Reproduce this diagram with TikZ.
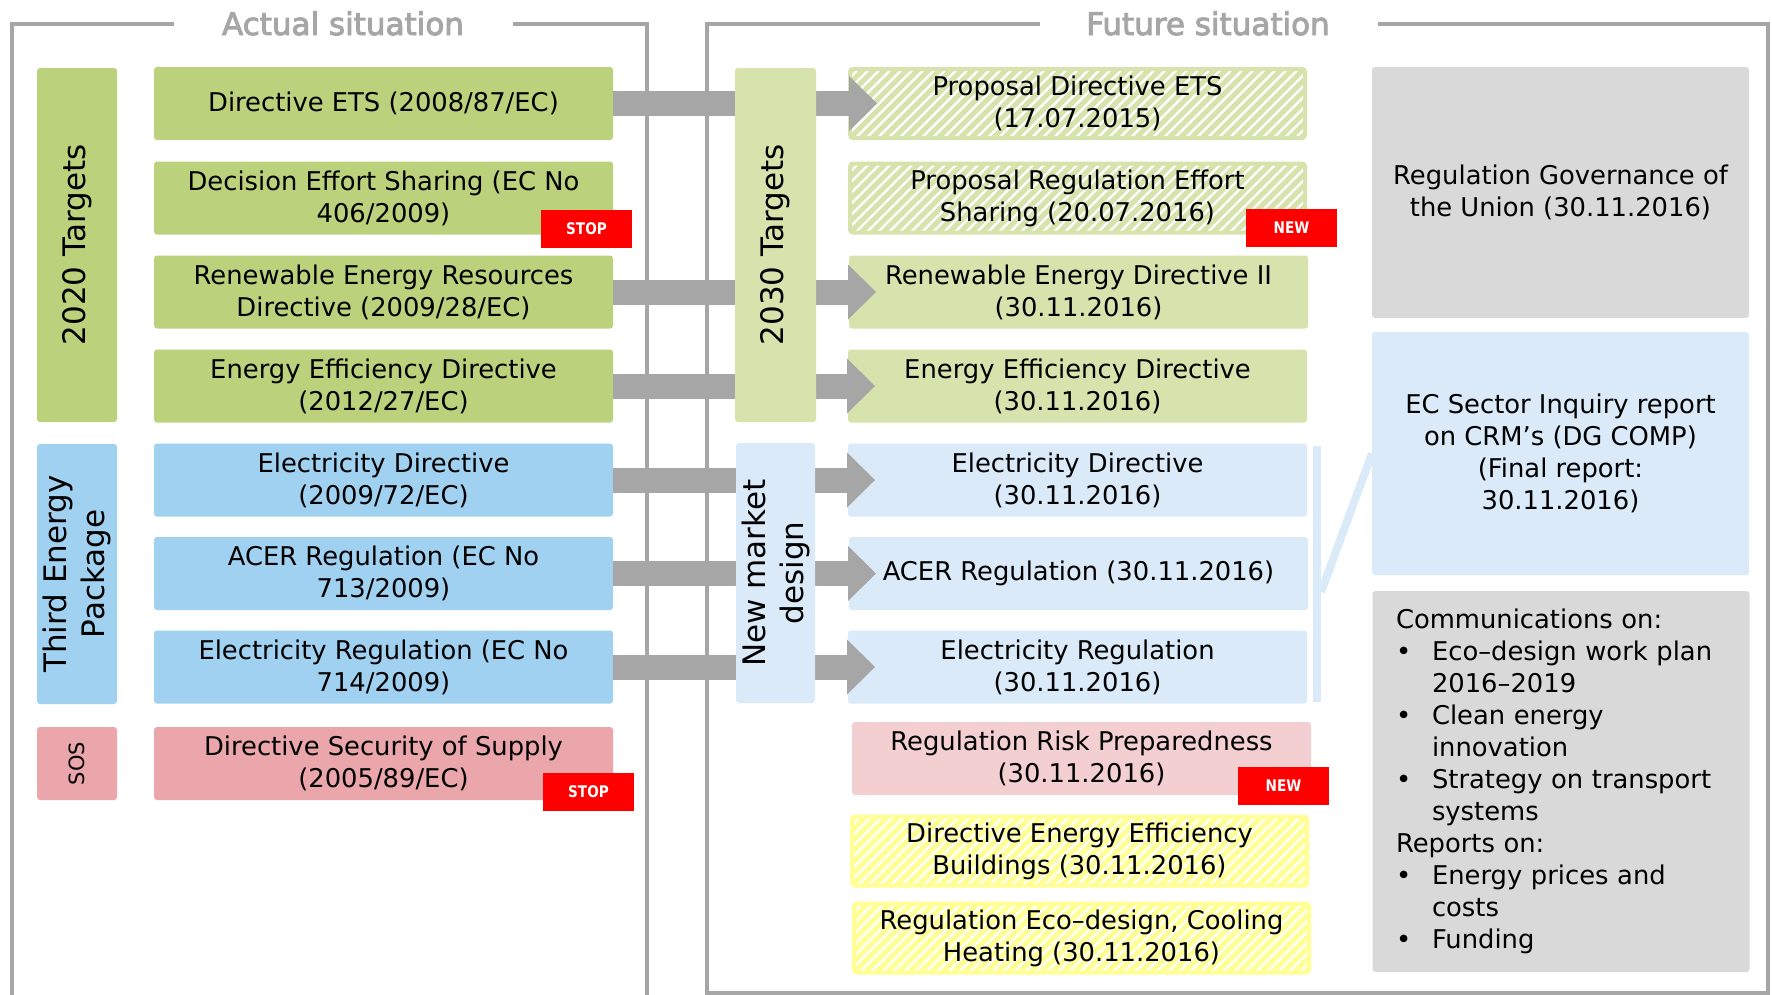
\documentclass[tikz,border=0pt]{standalone}
\usepackage{fontspec}
\setmainfont{DejaVu Sans}
\newfontface\headface{DejaVu Sans}[RawFeature={embolden=3}]
\newfontface\tagface{DejaVu Sans Bold}[FakeStretch=0.85]
\usetikzlibrary{arrows.meta}

\definecolor{grn}{RGB}{187,209,123}
\definecolor{lgrn}{RGB}{214,227,172}
\definecolor{blu}{RGB}{160,209,241}
\definecolor{lblu}{RGB}{218,234,248}
\definecolor{pnk}{RGB}{234,166,170}
\definecolor{lpnk}{RGB}{243,207,209}
\definecolor{gry}{RGB}{217,217,217}
\definecolor{frm}{RGB}{166,166,166}
\definecolor{ylw}{RGB}{255,255,150}
\definecolor{alert}{RGB}{255,0,0}

\newcommand\txtbody{\fontsize{25.8}{32}\selectfont}
\newcommand\txthead{\headface\fontsize{31}{37}\selectfont}
\newcommand\txtside{\fontsize{31}{38}\selectfont}
\newcommand\txtsos{\fontsize{21}{25}\selectfont}
\newcommand\txttag{\tagface\fontsize{16}{16}\selectfont}

\begin{document}
\begin{tikzpicture}[x=1pt, y=-1pt, line join=miter,
  every node/.style={inner sep=0pt, outer sep=0pt},
  lbox/.style={rounded corners=3pt, minimum width=459pt, minimum height=73pt,
    align=center, font=\txtbody},
  sidebox/.style={rounded corners=3pt, rotate=90, align=center, font=\txtside},
  hatch/.style={fill=white, draw=#1, line width=4pt,
    minimum width=455pt, minimum height=69pt,
    path picture={\foreach \k in {-10,...,45}{
      \draw[draw=#1, line width=5pt]
        ([xshift=\k*11pt]path picture bounding box.south west) -- ++(100,-100);}}},
  stamp/.style={fill=alert, text=white, minimum width=91pt, minimum height=38pt,
    font=\txttag},
  infobox/.style={fill=gry, rounded corners=3pt, minimum width=377pt,
    align=center, font=\txtbody},
  rim/.style={draw=frm, line width=4pt},
  flow/.style={draw=frm, line width=25pt,
    -{Triangle[length=28pt, width=55pt, line width=0pt]}},
  brk/.style={draw=lblu, line width=8pt},
  headtext/.style={font=\txthead, text=frm, anchor=base}]

\useasboundingbox (0,0) rectangle (1772,994);
\fill[white] (0,0) rectangle (1772,994);

% section titles and their frames
\node[headtext] (hact) at (343,35) {Actual situation};
\node[headtext] (hfut) at (1208,35) {Future situation};
\draw[rim] (174,24) -- (12,24) -- (12,1000);
\draw[rim] (513,24) -- (647,24) -- (647,1000);
\draw[rim] (1040,24) -- (707,24) -- (707,993) -- (1768,993) -- (1768,24) -- (1378,24);

% current legislation
\node[sidebox, fill=grn, minimum width=354pt, minimum height=80pt] (s2020) at (77,245) {2020 Targets};
\node[sidebox, fill=blu, minimum width=260pt, minimum height=80pt] (sthird) at (77,574) {Third Energy\\Package};
\node[sidebox, fill=pnk, minimum width=73pt, minimum height=80pt, font=\txtsos] (ssos) at (77,763.5) {SOS};

\node[lbox, fill=grn] (l1) at (383.5,103.5) {Directive ETS (2008/87/EC)};
\node[lbox, fill=grn] (l2) at (383.5,198) {Decision Effort Sharing (EC No\\406/2009)};
\node[lbox, fill=grn] (l3) at (383.5,292) {Renewable Energy Resources\\Directive (2009/28/EC)};
\node[lbox, fill=grn] (l4) at (383.5,386) {Energy Efficiency Directive\\(2012/27/EC)};
\node[lbox, fill=blu] (l5) at (383.5,480) {Electricity Directive\\(2009/72/EC)};
\node[lbox, fill=blu] (l6) at (383.5,573.5) {ACER Regulation (EC No\\713/2009)};
\node[lbox, fill=blu] (l7) at (383.5,667) {Electricity Regulation (EC No\\714/2009)};
\node[lbox, fill=pnk] (l8) at (383.5,763.5) {Directive Security of Supply\\(2005/89/EC)};

% proposed legislation
\node[lbox, hatch=lgrn] (r1) at (1077.5,103.5) {Proposal Directive ETS\\(17.07.2015)};
\node[lbox, hatch=lgrn] (r2) at (1077.5,198) {Proposal Regulation Effort\\Sharing (20.07.2016)};
\node[lbox, fill=lgrn] (r3) at (1078.5,292) {Renewable Energy Directive II\\(30.11.2016)};
\node[lbox, fill=lgrn] (r4) at (1077.5,386) {Energy Efficiency Directive\\(30.11.2016)};
\node[lbox, fill=lblu] (r5) at (1077.5,480) {Electricity Directive\\(30.11.2016)};
\node[lbox, fill=lblu] (r6) at (1078.5,573.5) {ACER Regulation (30.11.2016)};
\node[lbox, fill=lblu] (r7) at (1077.5,667) {Electricity Regulation\\(30.11.2016)};
\node[lbox, fill=lpnk] (r8) at (1081.5,758.5) {Regulation Risk Preparedness\\(30.11.2016)};
\node[lbox, hatch=ylw] (r9) at (1079.5,851) {Directive Energy Efficiency\\Buildings (30.11.2016)};
\node[lbox, hatch=ylw] (r10) at (1081.5,938) {Regulation Eco–design, Cooling\\Heating (30.11.2016)};

% transitions from current to proposed acts
\foreach \i in {1,3,4,5,6,7}
  \draw[flow] (l\i.east) -- ([xshift=27pt]r\i.west);

\node[sidebox, fill=lgrn, minimum width=354pt, minimum height=81pt] (s2030) at (775.5,245) {2030 Targets};
\node[sidebox, fill=lblu, minimum width=260pt, minimum height=79pt] (smkt) at (775.5,573) {New market\\design};

\node[stamp] (stop1) at (586.5,229) {STOP};
\node[stamp] (stop2) at (588.5,792) {STOP};
\node[stamp] (new1) at (1291.5,228) {NEW};
\node[stamp] (new2) at (1283.5,786) {NEW};

% accompanying documents
\node[infobox, minimum height=251pt] (gov) at (1560.5,192.5) {Regulation Governance of\\the Union (30.11.2016)};
\node[infobox, fill=lblu, minimum height=243pt] (ec) at (1560.5,453.5) {EC Sector Inquiry report\\on CRM’s (DG COMP)\\(Final report:\\30.11.2016)};
\node[infobox, minimum height=381pt, align=left, text width=330pt, inner xsep=23pt] (com) at (1561,781.5) {%
Communications on:\\
\makebox[36pt][l]{•}Eco–design work plan\\
\hspace*{36pt}2016–2019\\
\makebox[36pt][l]{•}Clean energy\\
\hspace*{36pt}innovation\\
\makebox[36pt][l]{•}Strategy on transport\\
\hspace*{36pt}systems\\
Reports on:\\
\makebox[36pt][l]{•}Energy prices and\\
\hspace*{36pt}costs\\
\makebox[36pt][l]{•}Funding};

% bracket linking the market design acts to the sector inquiry
\coordinate (bt) at (1317,446);
\coordinate (bb) at (1317,702);
\coordinate (bj) at (1321,592);
\draw[brk] (bt) -- (bb);
\draw[brk] (bj) -- (ec.west);
\end{tikzpicture}
\end{document}
